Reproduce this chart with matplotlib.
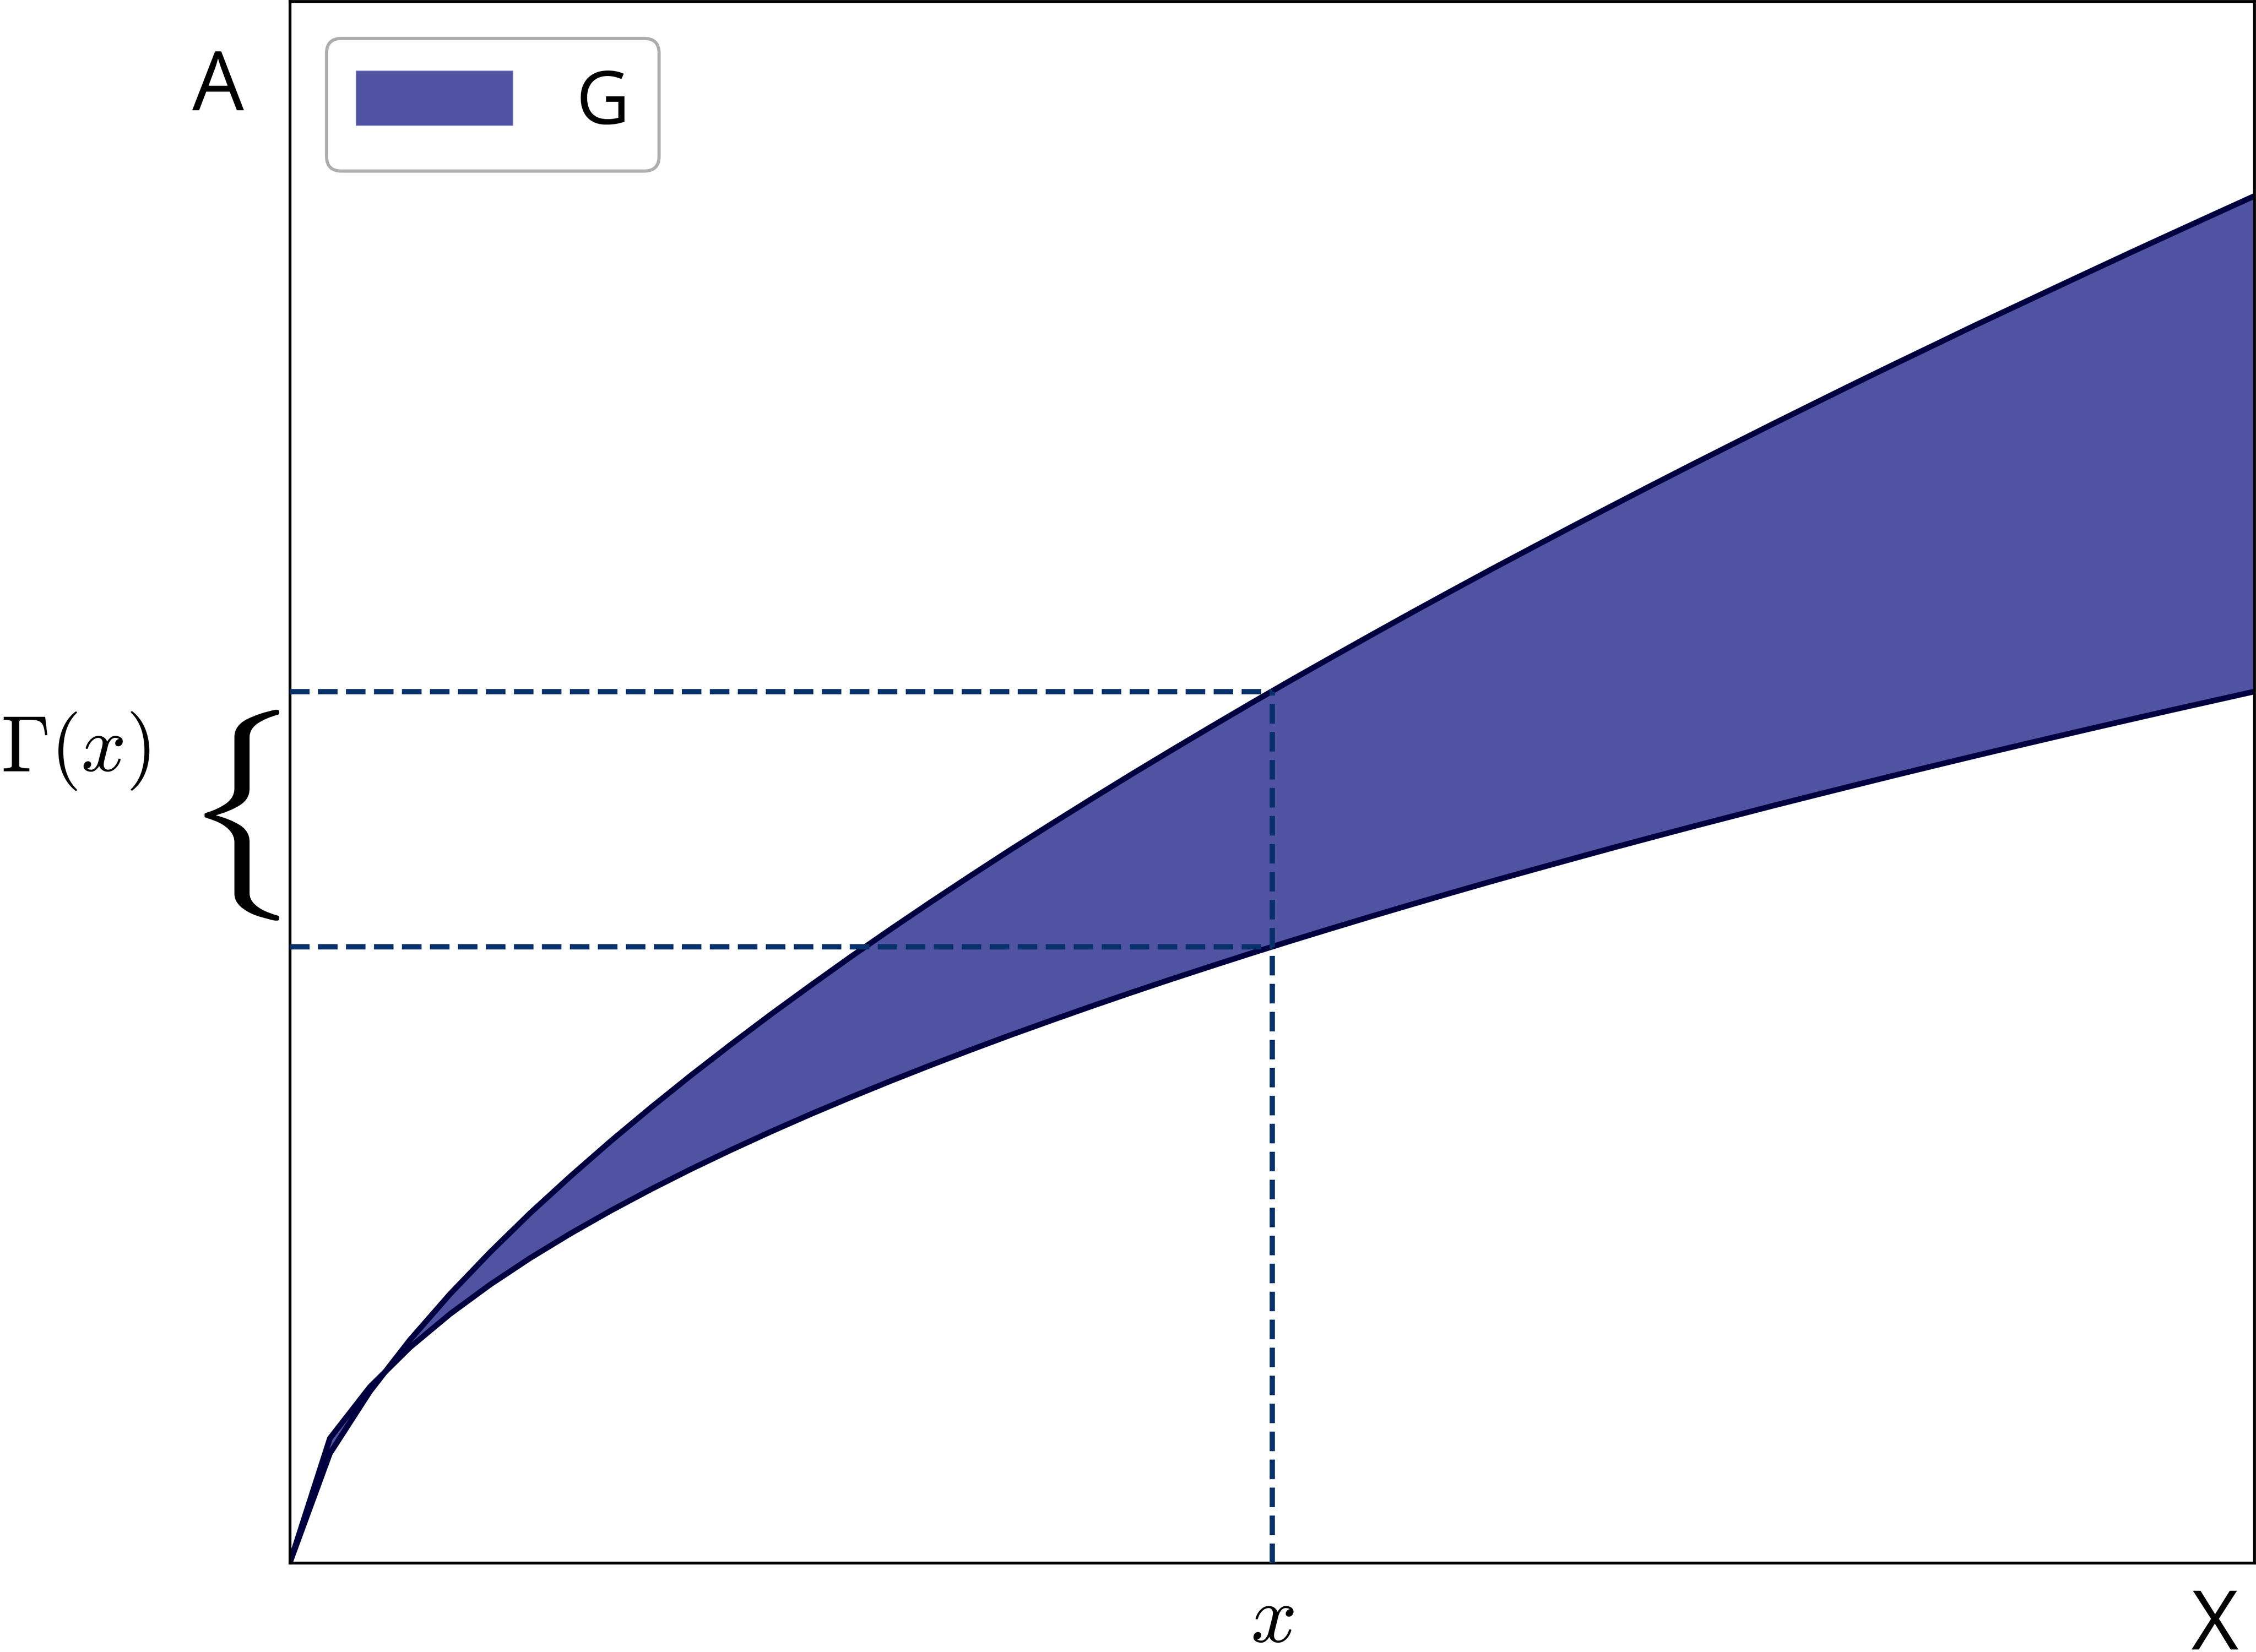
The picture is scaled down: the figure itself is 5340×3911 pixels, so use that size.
import numpy as np
import matplotlib
matplotlib.use("Agg")
import matplotlib.pyplot as plt
from matplotlib.textpath import TextPath
from matplotlib.patches import PathPatch
from matplotlib.transforms import Affine2D, blended_transform_factory

plt.rcParams['font.family'] = ['Open Sans', 'DejaVu Sans']
plt.rcParams['mathtext.fontset'] = 'cm'

# sample grid along X (50 points from 0 to 1)
x_vals = [0.0, 0.0204, 0.0408, 0.0612, 0.0816, 0.1020, 0.1224, 0.1429, 0.1633, 0.1837,
          0.2041, 0.2245, 0.2449, 0.2653, 0.2857, 0.3061, 0.3265, 0.3469, 0.3673, 0.3878,
          0.4082, 0.4286, 0.4490, 0.4694, 0.4898, 0.5102, 0.5306, 0.5510, 0.5714, 0.5918,
          0.6122, 0.6327, 0.6531, 0.6735, 0.6939, 0.7143, 0.7347, 0.7551, 0.7755, 0.7959,
          0.8163, 0.8367, 0.8571, 0.8776, 0.8980, 0.9184, 0.9388, 0.9592, 0.9796, 1.0]

# upper boundary of G
upper = [0.0, 0.1255, 0.1968, 0.2560, 0.3086, 0.3566, 0.4015, 0.4437, 0.4839, 0.5223,
         0.5593, 0.5949, 0.6295, 0.6630, 0.6958, 0.7276, 0.7587, 0.7891, 0.8190, 0.8482,
         0.8769, 0.9052, 0.9329, 0.9602, 0.9872, 1.0137, 1.0397, 1.0655, 1.0910, 1.1161,
         1.1410, 1.1655, 1.1898, 1.2137, 1.2375, 1.2610, 1.2842, 1.3073, 1.3301, 1.3528,
         1.3752, 1.3973, 1.4195, 1.4412, 1.4628, 1.4843, 1.5057, 1.5268, 1.5478, 1.5687]

# lower boundary of G
lower = [0.0, 0.1429, 0.2020, 0.2474, 0.2857, 0.3194, 0.3499, 0.3780, 0.4041, 0.4286,
         0.4518, 0.4738, 0.4949, 0.5151, 0.5345, 0.5533, 0.5714, 0.5890, 0.6061, 0.6227,
         0.6389, 0.6547, 0.6701, 0.6851, 0.6999, 0.7143, 0.7284, 0.7423, 0.7559, 0.7693,
         0.7825, 0.7954, 0.8081, 0.8207, 0.8330, 0.8452, 0.8571, 0.8690, 0.8806, 0.8921,
         0.9035, 0.9147, 0.9258, 0.9368, 0.9476, 0.9583, 0.9689, 0.9794, 0.9897, 1.0]

# the chosen point x and the section Gamma(x)
x_mark = 0.5
gamma_lo = 0.7071
gamma_hi = 1.0

fill_color = '#5052a2'
edge_color = '#000040'
dash_color = '#08306b'

fig = plt.figure(figsize=(5340 / 300, 3911 / 300), dpi=300)
ax = fig.add_axes([0.12846, 0.05395, 0.87079, 0.94516])

ax.fill_between(x_vals, lower, upper, facecolor=fill_color, edgecolor='#7a7cc4',
                lw=0.4, label='G', zorder=1)
ax.plot(x_vals, upper, color=edge_color, lw=3.2, zorder=2)
ax.plot(x_vals, lower, color=edge_color, lw=3.2, zorder=2)

# dashed guides
ax.plot([x_mark, x_mark], [0, gamma_hi], ls='--', color=dash_color, lw=3, zorder=3)
ax.plot([0, x_mark], [gamma_hi, gamma_hi], ls='--', color=dash_color, lw=3, zorder=3)
ax.plot([0, x_mark], [gamma_lo, gamma_lo], ls='--', color=dash_color, lw=3, zorder=3)

# curly brace next to the section
ax_y = blended_transform_factory(ax.transAxes, ax.transData)
brace = TextPath((0, 0), r"$\{$", size=100)
ext = brace.get_extents()
bx0, bx1 = -0.0434, -0.0054
by0, by1 = gamma_lo + 0.03, gamma_hi - 0.021
tr = Affine2D().translate(-ext.x0, -ext.y0) \
    .scale((bx1 - bx0) / ext.width, (by1 - by0) / ext.height) \
    .translate(bx0, by0) + ax_y
ax.add_patch(PathPatch(brace, transform=tr, facecolor='black', lw=0, clip_on=False))

ax.set_xlim(0, 1)
ax.set_ylim(0, 1.792)
ax.set_xticks([])
ax.set_yticks([])
for sp in ax.spines.values():
    sp.set_linewidth(1.6)

x_ax = blended_transform_factory(ax.transData, ax.transAxes)
ax.text(x_mark, -0.0506, '$x$', transform=x_ax, ha='center', va='baseline', fontsize=46)
ax.text(0.9798, -0.0555, 'X', transform=ax.transAxes, ha='center', va='baseline', fontsize=46.5)
ax.text(-0.0366, 0.9304, 'A', transform=ax.transAxes, ha='center', va='baseline', fontsize=46.5)
ax.text(-0.1471, 0.5072, r'$\Gamma(x)$', transform=ax.transAxes, ha='left', va='baseline',
        fontsize=45)

leg = ax.legend(loc='upper left', fontsize=42, framealpha=1, edgecolor='#adadad',
                handlelength=2.12, handleheight=0.76, handletextpad=0.85)
leg.get_frame().set_linewidth(1.8)

fig.savefig('out.png', dpi=300)
